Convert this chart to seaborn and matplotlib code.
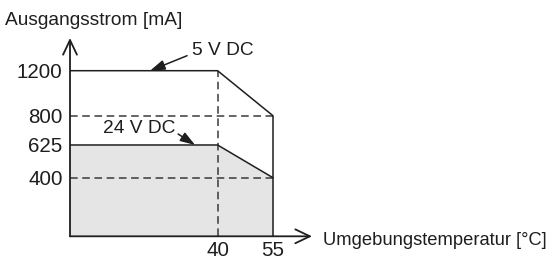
import numpy as np
import pandas as pd
import matplotlib
matplotlib.use("Agg")
import matplotlib.pyplot as plt
import seaborn as sns

# ---- data ----
temp = [0, 40, 55]
current_5v = [1200, 1200, 800]
current_24v = [625, 625, 400]
y_ticks = [400, 625, 800, 1200]
y_tick_labels = ["400", "625", "800", "1200"]
x_ticks = [40, 55]
x_tick_labels = ["40", "55"]
label_5v = "5 V DC"
label_24v = "24 V DC"
y_title = "Ausgangsstrom [mA]"
x_title = "Umgebungstemperatur [°C]"

sns.set_theme(style="white")
plt.rcParams["font.family"] = ["Liberation Sans", "DejaVu Sans"]
FS_NUM = 14.8
FS_TXT = 13.8
INK = "#1e1e1e"

W, H = 550, 259
fig = plt.figure(figsize=(W / 100, H / 100), dpi=100)
ax = fig.add_axes([70 / W, 22.7 / H, 242 / W, 198.3 / H])

# schematic (non-linear) current axis as in the original drawing
_vals = np.array([0, 400, 625, 800, 1200, 3000], dtype=float)
_pix = np.array([0, 58.6, 91.3, 120.6, 165.6, 165.6 + 1800 * 0.13])
fwd = lambda v: np.interp(v, _vals, _pix)
inv = lambda p: np.interp(p, _pix, _vals)
ax.set_yscale("function", functions=(fwd, inv))

df = pd.DataFrame({"T": temp * 2,
                   "I": current_5v + current_24v,
                   "s": [label_5v] * 3 + [label_24v] * 3})

ax.fill_between(temp, 0, current_24v, color="#e5e5e5", lw=0, zorder=1)
sns.lineplot(data=df, x="T", y="I", units="s", estimator=None,
             color=INK, lw=1.1, ax=ax, zorder=3, sort=False)
ax.vlines(temp[-1], 0, current_5v[-1], color=INK, lw=1.1, zorder=3)

dash = dict(color="#3a3a3a", lw=1.1, linestyles=(0, (5, 3)), zorder=2)
ax.hlines([current_5v[-1], current_24v[-1]], 0, temp[-1], **dash)
ax.vlines(temp[1], 0, current_5v[1], **dash)

ax.set_xlim(0, 242 / 3.69)
ax.set_ylim(0, inv(198.3))
ax.set_xlabel("")
ax.set_ylabel("")
ax.set_yticks(y_ticks, y_tick_labels)
ax.set_xticks(x_ticks, x_tick_labels)
ax.tick_params(axis="both", length=0, labelsize=FS_NUM, colors=INK)
ax.tick_params(axis="y", pad=5.3)
ax.tick_params(axis="x", pad=3.5)
ax.minorticks_off()
for s in ax.spines.values():
    s.set_visible(False)
ax.patch.set_alpha(0)

# axis arrows
axarrow = dict(arrowstyle="->,head_length=1.05,head_width=0.5", lw=1.3,
               color=INK, shrinkA=0, shrinkB=0, mutation_scale=10)
ax.annotate("", xy=(0, 1), xytext=(0, 0), xycoords="axes fraction",
            arrowprops=axarrow, annotation_clip=False)
ax.annotate("", xy=(1, 0), xytext=(0, 0), xycoords="axes fraction",
            arrowprops=axarrow, annotation_clip=False)

# series labels with pointer arrows
parrow = dict(arrowstyle="-|>,head_length=0.9,head_width=0.3", lw=1.1,
              color=INK, shrinkA=0, shrinkB=0, mutation_scale=10)
ax.annotate("", xy=(21.7, current_5v[0]), xytext=(37, 15),
            textcoords="offset pixels", arrowprops=parrow, zorder=4)
ax.annotate("", xy=(33.9, current_24v[0]), xytext=(-17, 11),
            textcoords="offset pixels", arrowprops=parrow, zorder=4)
fig.text(192 / W, (H - 55) / H, label_5v, fontsize=FS_TXT, color=INK, va="baseline")
fig.text(103 / W, (H - 133) / H, label_24v, fontsize=FS_TXT, color=INK, va="baseline")

fig.text(5 / W, (H - 25) / H, y_title, fontsize=FS_TXT, color=INK, va="baseline")
fig.text(323 / W, (H - 245) / H, x_title, fontsize=13.2, color=INK, va="baseline")

fig.savefig("out.png", dpi=100)
